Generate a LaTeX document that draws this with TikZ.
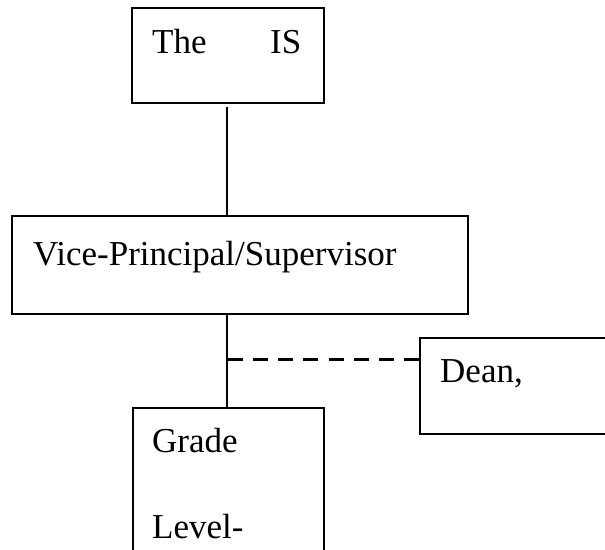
\documentclass[tikz,border=0pt]{standalone}
\usepackage{fontspec}
\setmainfont{Liberation Serif}
\begin{document}
\begin{tikzpicture}[x=1pt,y=1pt,
  box/.style={draw,line width=1.8pt,inner sep=0pt,anchor=north west},
  lbl/.style={anchor=base west,inner sep=0pt,font=\fontsize{35}{42}\selectfont},
  conn/.style={line width=1.8pt},
  dconn/.style={line width=3pt,dash pattern=on 15pt off 10.14pt}]
\useasboundingbox (0,0) rectangle (605,-549);
\clip (0,0) rectangle (605,-549);
% boxes
\node[box,minimum width=192pt,minimum height=95pt] (is) at (131,-7) {};
\node[box,minimum width=456pt,minimum height=98pt] (vp) at (11,-215) {};
\node[box,minimum width=200pt,minimum height=96pt] (dean) at (419,-337) {};
\node[box,minimum width=191pt,minimum height=160pt] (grade) at (132,-407) {};
% texts
\node[lbl] (t1) at (152,-53) {The};
\node[lbl] (t2) at (270,-53) {IS};
\node[lbl] (t3) at (33,-265) {Vice-Principal/Supervisor};
\node[lbl] (t4) at (440,-382) {Dean,};
\node[lbl] (t5) at (152,-452) {Grade};
\node[lbl] (t6) at (152,-538) {Level-};
% connectors
\coordinate (isb) at (227,-107);
\coordinate (vpb) at (227,-313);
\coordinate (dj) at (228,-359);
\draw[conn] (isb) -- (isb |- vp.north);
\draw[conn] (vpb) -- (vpb |- grade.north);
\draw[dconn] (dj) -- (dj -| dean.west);
\end{tikzpicture}
\end{document}
